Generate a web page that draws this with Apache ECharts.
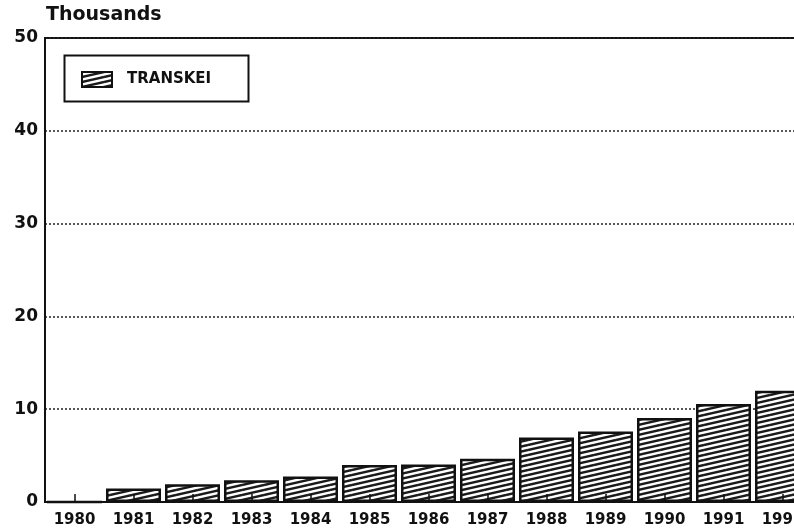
<!DOCTYPE html>
<html>
<head>
<meta charset="utf-8">
<script src="https://cdn.jsdelivr.net/npm/echarts@6/dist/echarts.min.js"></script>
<style>
  html, body { margin: 0; padding: 0; background: #fff; }
  #main { width: 794px; height: 530px; }
</style>
</head>
<body>
<div id="main"></div>
<script>
var years = ['1980', '1981', '1982', '1983', '1984', '1985', '1986', '1987', '1988', '1989', '1990', '1991', '1992'];
var transkei = [0, 1.45, 1.9, 2.35, 2.75, 4.0, 4.05, 4.65, 6.95, 7.6, 9.05, 10.55, 12.0];
var yTicks = [0, 10, 20, 30, 40, 50];

// hatch fill: shallow diagonal lines, dense
function hatch() {
    var c = document.createElement('canvas');
    c.width = 22; c.height = 5;
    var ctx = c.getContext('2d');
    ctx.fillStyle = '#fff';
    ctx.fillRect(0, 0, 22, 5);
    ctx.strokeStyle = '#1a1a1a';
    ctx.lineWidth = 2.4;
    for (var k = -1; k <= 1; k++) {
        ctx.beginPath();
        ctx.moveTo(0, 5 + 5 * k);
        ctx.lineTo(22, 0 + 5 * k);
        ctx.stroke();
    }
    return c;
}
var pattern = { image: hatch(), repeat: 'repeat' };

var font = 'DejaVu Sans';
var myChart = echarts.init(document.getElementById('main'));
myChart.setOption({
    animation: false,
    backgroundColor: '#fff',
    // plot runs past the right edge, the 1992 bar is cut like in the scan
    grid: { left: 45, width: 767, top: 38, bottom: 28, containLabel: false, outerBoundsMode: 'none',
            show: true, borderColor: '#111', borderWidth: 2, backgroundColor: 'transparent' },
    graphic: [
        { type: 'rect', left: 62, top: 53, shape: { width: 184, height: 46 },
          style: { fill: 'none', stroke: '#111', lineWidth: 2 }, z: 10 },
        { type: 'text', left: 46, top: 6,
          style: { text: 'Thousands', font: 'bold 19px "DejaVu Sans"', fill: '#111' } }
    ],
    legend: {
        left: 76, top: 66, itemWidth: 30, itemHeight: 15, icon: 'rect',
        data: ['TRANSKEI'],
        textStyle: { fontFamily: font, fontWeight: 'bold', fontSize: 15, color: '#111', padding: [0, 0, 0, 10] }
    },
    xAxis: {
        type: 'category',
        data: years,
        z: 5,
        axisLine: { lineStyle: { color: '#111', width: 2 } },
        axisTick: { show: true, inside: true, alignWithLabel: true, length: 8, lineStyle: { color: '#111', width: 1.5 } },
        axisLabel: { fontFamily: font, fontWeight: 'bold', fontSize: 15, color: '#111', margin: 11 }
    },
    yAxis: {
        type: 'value',
        min: yTicks[0],
        max: yTicks[yTicks.length - 1],
        interval: 10,
        axisLine: { show: true, lineStyle: { color: '#111', width: 2 } },
        axisTick: { show: false },
        axisLabel: { fontFamily: font, fontWeight: 'bold', fontSize: 17, color: '#111', margin: 7 },
        splitLine: { lineStyle: { color: '#222', type: [2, 2], width: 1.5 } }
    },
    series: [{
        name: 'TRANSKEI',
        type: 'bar',
        data: transkei,
        barWidth: 55,
        itemStyle: { color: pattern, borderColor: '#111', borderWidth: 2.5 }
    }]
});
</script>
</body>
</html>
